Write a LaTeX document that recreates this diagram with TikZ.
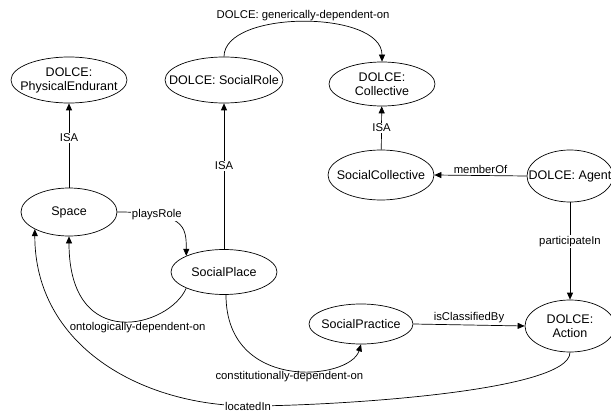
\documentclass[tikz,border=0pt]{standalone}
\usepackage{fontspec}
\setmainfont{Liberation Sans}
\usetikzlibrary{shapes.geometric,arrows.meta}
\begin{document}
\begin{tikzpicture}[x=1pt,y=-1pt,
  ent/.style={ellipse,draw,line width=0.7pt,inner sep=0pt},
  ntext/.style={font=\fontsize{12.5}{14}\selectfont,align=center,inner sep=0pt},
  edge/.style={draw,line width=0.7pt,-{Triangle[length=7pt,width=6pt]}},
  lab/.style={font=\fontsize{11.3}{13}\selectfont,inner sep=1pt},
  labw/.style={lab,fill=white}]
\useasboundingbox (0,0) rectangle (611,412);
\node[ent,minimum width=116pt,minimum height=46pt,label={[ntext]center:{DOLCE:\\PhysicalEndurant}}] (pe) at (69,80) {};
\node[ent,minimum width=118pt,minimum height=46pt,label={[ntext]center:{DOLCE: SocialRole}}] (sr) at (224,80) {};
\node[ent,minimum width=106pt,minimum height=44pt,label={[ntext]center:{DOLCE:\\Collective}}] (coll) at (382,84) {};
\node[ent,minimum width=106pt,minimum height=50pt,label={[ntext]center:{SocialCollective}}] (scoll) at (381,175) {};
\node[ent,minimum width=86pt,minimum height=52pt,label={[ntext]center:{DOLCE: Agent}}] (agent) at (570,176) {};
\node[ent,minimum width=90pt,minimum height=52pt,label={[ntext]center:{DOLCE:\\Action}}] (action) at (570,326) {};
\node[ent,minimum width=96pt,minimum height=48pt,label={[ntext]center:{Space}}] (space) at (69,212) {};
\node[ent,minimum width=106pt,minimum height=45pt,label={[ntext]center:{SocialPlace}}] (splace) at (224,272) {};
\node[ent,minimum width=104pt,minimum height=40pt,label={[ntext]center:{SocialPractice}}] (sprac) at (361,324) {};
\coordinate (li) at (248,406);

\draw[edge] (space) -- node[labw,pos=0.59]{ISA} (pe);
\draw[edge] (splace) -- node[labw,pos=0.57]{ISA} (sr);
\draw[edge] (scoll) -- node[labw,pos=0.5]{ISA} (coll);
\draw[edge] (agent.west) -- node[lab,above=1pt,pos=0.5]{memberOf} (scoll.east);
\draw[edge] (agent.south) -- node[labw,pos=0.4]{participateIn} (action.north);
\draw[edge] (sprac.east) -- node[lab,above=1pt,pos=0.5]{isClassifiedBy} (action.west);
\draw[edge] (sr.north) .. controls +(0,-47) and +(0,-52) .. node[lab,above=0pt,pos=0.5]{DOLCE: generically-dependent-on} (coll.north);
\draw[edge] (space.east) .. controls +(68,0) and +(0,-29) .. node[labw,pos=0.25]{playsRole} (splace.north west);
\draw[edge] (splace.south west) .. controls +(-17,39) and +(0,118) .. node[lab,pos=0.4,anchor=north]{ontologically-dependent-on} (space.south);
\draw[edge] (splace.-85) .. controls +(0,98) and +(-11,36) .. node[lab,pos=0.5,anchor=north]{constitutionally-dependent-on} (sprac.south);
\draw[line width=0.7pt] (action.south) .. controls +(0,40) and +(80,0) .. (li);
\draw[edge] (li) .. controls +(-108,-1) and +(0,116) .. (space.south west);
\node[labw] (lilab) at (li) {locatedIn};
\end{tikzpicture}
\end{document}
